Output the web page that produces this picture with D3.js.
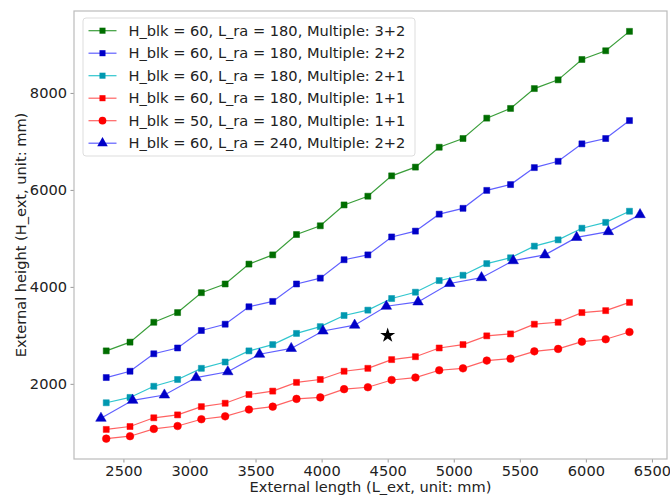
<!DOCTYPE html>
<html>
<head>
<meta charset="utf-8">
<script src="https://cdn.jsdelivr.net/npm/d3@7"></script>
<style>
  body { margin: 0; background: #fff; }
  text { font-family: "DejaVu Sans", sans-serif; fill: #222; }
</style>
</head>
<body>
<svg id="chart" width="670" height="497"></svg>
<script>
// x positions: L_ra = 180 series start at 2370, L_ra = 240 series at 2330
const xs180 = [2370, 2550, 2730, 2910, 3090, 3270, 3450, 3630, 3810, 3990, 4170, 4350,
  4530, 4710, 4890, 5070, 5250, 5430, 5610, 5790, 5970, 6150, 6330];
const xs240 = [2330, 2570, 2810, 3050, 3290, 3530, 3770, 4010, 4250, 4490, 4730, 4970,
  5210, 5450, 5690, 5930, 6170, 6410];

// heights
const h60m32 = [2680, 2860, 3270, 3470, 3880, 4060, 4470, 4660, 5080, 5260, 5690, 5870,
  6290, 6470, 6880, 7060, 7480, 7680, 8090, 8270, 8690, 8870, 9270];
const h60m22 = [2130, 2260, 2620, 2740, 3100, 3230, 3590, 3700, 4060, 4180, 4560, 4660,
  5030, 5150, 5500, 5620, 5990, 6110, 6460, 6590, 6950, 7060, 7430];
const h60m21 = [1610, 1720, 1950, 2090, 2320, 2450, 2680, 2810, 3040, 3180, 3410, 3520,
  3760, 3890, 4130, 4240, 4480, 4600, 4840, 4970, 5210, 5330, 5560];
const h60m11 = [1060, 1120, 1300, 1360, 1530, 1600, 1780, 1850, 2030, 2090, 2260, 2320,
  2500, 2560, 2740, 2810, 2990, 3030, 3230, 3270, 3470, 3510, 3680];
const h50m11 = [870, 920, 1070, 1130, 1270, 1330, 1470, 1530, 1690, 1720, 1890, 1930,
  2080, 2130, 2280, 2320, 2480, 2520, 2670, 2720, 2870, 2920, 3070];
const h60r240 = [1290, 1660, 1770, 2130, 2250, 2610, 2730, 3090, 3210, 3600, 3690, 4070,
  4190, 4540, 4660, 5020, 5140, 5490];

const starPoint = [4500, 3000];

const xTicks = [2500, 3000, 3500, 4000, 4500, 5000, 5500, 6000, 6500];
const yTicks = [2000, 4000, 6000, 8000];

const series = [
  { label: 'H_blk = 60, L_ra = 180, Multiple: 3+2', xs: xs180, ys: h60m32, line: '#3a9e3a', fill: '#006e00', shape: d3.symbolSquare },
  { label: 'H_blk = 60, L_ra = 180, Multiple: 2+2', xs: xs180, ys: h60m22, line: '#6060ff', fill: '#0000c8', shape: d3.symbolSquare },
  { label: 'H_blk = 60, L_ra = 180, Multiple: 2+1', xs: xs180, ys: h60m21, line: '#30c6ce', fill: '#0098b0', shape: d3.symbolSquare },
  { label: 'H_blk = 60, L_ra = 180, Multiple: 1+1', xs: xs180, ys: h60m11, line: '#ff6262', fill: '#ff0000', shape: d3.symbolSquare },
  { label: 'H_blk = 50, L_ra = 180, Multiple: 1+1', xs: xs180, ys: h50m11, line: '#ff6262', fill: '#ff0000', shape: d3.symbolCircle },
  { label: 'H_blk = 60, L_ra = 240, Multiple: 2+2', xs: xs240, ys: h60r240, line: '#6060ff', fill: '#0000c8', shape: d3.symbolTriangle }
];

// marker area per shape
sizeOf = (shape) => shape == d3.symbolSquare ? 36 : (shape == d3.symbolCircle ? 46 : 48);

const mLeft = 74, mRight = 667, mTop = 11, mBottom = 459;
const fs = '14.6px';
const svg = d3.select('#chart');

// matplotlib style 5% margins around the data
const allX = xs180.concat(xs240), allY = [].concat(h60m32, h60m22, h60m21, h60m11, h50m11, h60r240);
const [x0, x1] = d3.extent(allX), [y0, y1] = d3.extent(allY);
const x = d3.scaleLinear().domain([x0 - (x1 - x0) * 0.05, x1 + (x1 - x0) * 0.05]).range([mLeft, mRight]);
const y = d3.scaleLinear().domain([y0 - (y1 - y0) * 0.05, y1 + (y1 - y0) * 0.05]).range([mBottom, mTop]);

// axes
const gx = svg.append('g').attr('transform', 'translate(0,' + mBottom + ')')
  .call(d3.axisBottom(x).tickValues(xTicks).tickSize(3.5).tickPadding(3.5).tickFormat(d3.format('d')));
const gy = svg.append('g').attr('transform', 'translate(' + mLeft + ',0)')
  .call(d3.axisLeft(y).tickValues(yTicks).tickSize(3.5).tickPadding(3.5).tickFormat(d3.format('d')));
[gx, gy].forEach(g => {
  g.select('.domain').remove();
  g.selectAll('line').attr('stroke', '#999');
  g.selectAll('text').style('font-family', '"DejaVu Sans", sans-serif').style('font-size', fs).attr('fill', '#222');
});

// frame
svg.append('rect').attr('x', mLeft).attr('y', mTop).attr('width', mRight - mLeft).attr('height', mBottom - mTop)
  .attr('fill', 'none').attr('stroke', '#bbb').attr('stroke-width', 1.2);

svg.append('text').attr('x', (mLeft + mRight) / 2).attr('y', 492).attr('text-anchor', 'middle')
  .style('font-size', fs).text('External length (L_ext, unit: mm)');
svg.append('text').attr('transform', 'translate(26,' + ((mTop + mBottom) / 2) + ') rotate(-90)')
  .attr('text-anchor', 'middle').style('font-size', fs).text('External height (H_ext, unit: mm)');

const line = d3.line().x(d => x(d[0])).y(d => y(d[1]));

series.forEach(s => {
  let pts = s.xs.map((v, i) => [v, s.ys[i]]);
  let g = svg.append('g');
  g.append('path').datum(pts).attr('d', line).attr('fill', 'none')
    .attr('stroke', s.line).attr('stroke-width', 1.2);
  g.selectAll('path.m').data(pts).join('path').attr('class', 'm')
    .attr('transform', d => 'translate(' + x(d[0]) + ',' + y(d[1]) + ')')
    .attr('d', d3.symbol().type(s.shape).size(sizeOf(s.shape)))
    .attr('fill', s.fill).attr('stroke', s.fill).attr('stroke-opacity', 0.5);
});

// the black star
svg.append('path')
  .attr('transform', 'translate(' + x(starPoint[0]) + ',' + y(starPoint[1]) + ')')
  .attr('d', d3.symbol().type(d3.symbolStar).size(70)).attr('fill', '#000');

// legend
const lg = svg.append('g').attr('transform', 'translate(83,18)');
lg.append('rect').attr('width', 332).attr('height', 138).attr('rx', 3)
  .attr('fill', '#fff').attr('fill-opacity', 0.85).attr('stroke', '#ddd');
series.forEach((s, i) => {
  let row = lg.append('g').attr('transform', 'translate(0,' + (12.7 + i * 22.5) + ')');
  row.append('line').attr('x1', 5.5).attr('x2', 33.5).attr('stroke', s.line).attr('stroke-width', 1.2);
  row.append('path').attr('transform', 'translate(19.5,0)')
    .attr('d', d3.symbol().type(s.shape).size(sizeOf(s.shape))).attr('fill', s.fill);
  row.append('text').attr('x', 45.5).attr('dy', '0.35em').style('font-size', fs).text(s.label);
});
</script>
</body>
</html>
